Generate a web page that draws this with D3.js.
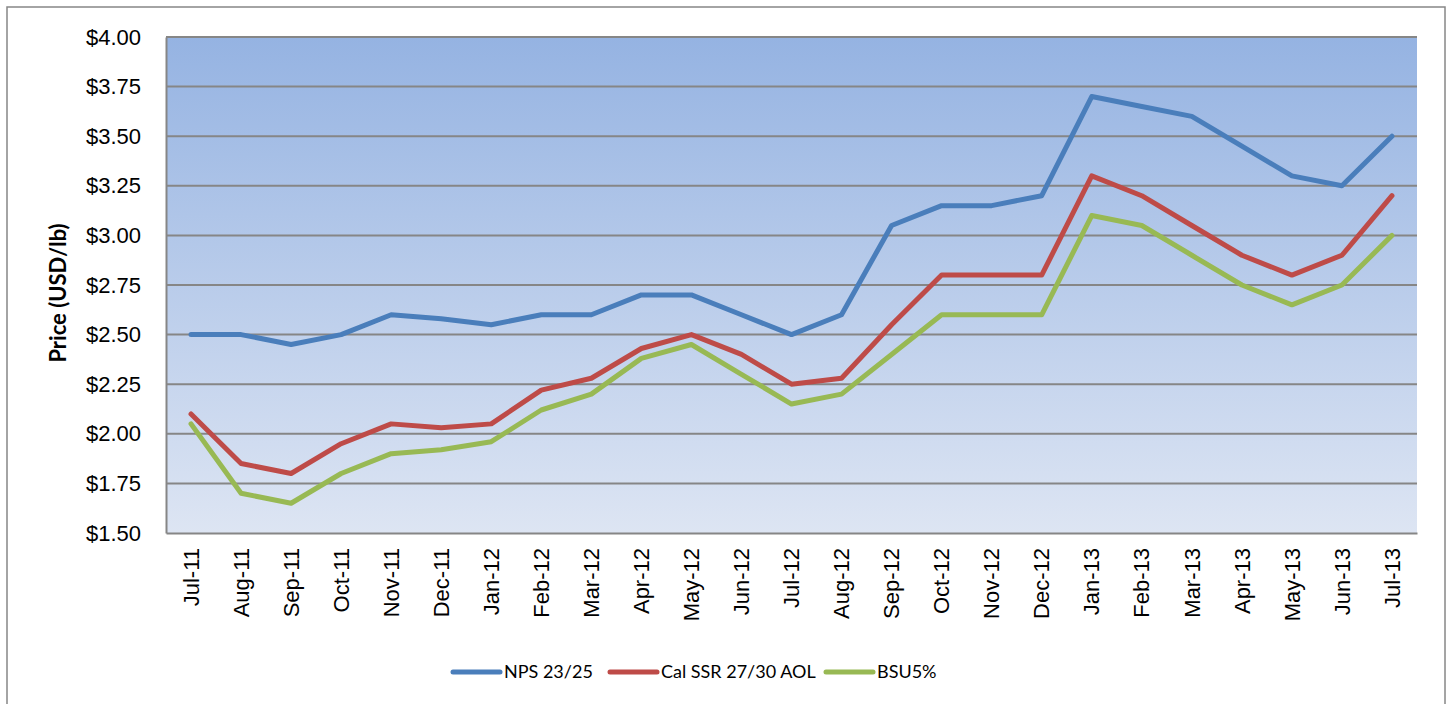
<!DOCTYPE html>
<html>
<head>
<meta charset="utf-8">
<script src="https://cdn.jsdelivr.net/npm/d3@7"></script>
<style>
  body { margin: 0; background: #fff; }
  svg { display: block; font-family: Lato, "Open Sans", sans-serif; }
</style>
</head>
<body>
<svg id="chart" width="1450" height="704"></svg>
<script>
const months = ['Jul-11', 'Aug-11', 'Sep-11', 'Oct-11', 'Nov-11', 'Dec-11', 'Jan-12', 'Feb-12', 'Mar-12', 'Apr-12',
  'May-12', 'Jun-12', 'Jul-12', 'Aug-12', 'Sep-12', 'Oct-12', 'Nov-12', 'Dec-12', 'Jan-13', 'Feb-13', 'Mar-13',
  'Apr-13', 'May-13', 'Jun-13', 'Jul-13']
const nps = [2.50, 2.50, 2.45, 2.50, 2.60, 2.58, 2.55, 2.60, 2.60, 2.70, 2.70, 2.60, 2.50, 2.60, 3.05, 3.15, 3.15, 3.20,
  3.70, 3.65, 3.60, 3.45, 3.30, 3.25, 3.50]
const calSsr = [2.10, 1.85, 1.80, 1.95, 2.05, 2.03, 2.05, 2.22, 2.28, 2.43, 2.50, 2.40, 2.25, 2.28, 2.55, 2.80, 2.80, 2.80,
  3.30, 3.20, 3.05, 2.90, 2.80, 2.90, 3.20]
const bsu = [2.05, 1.70, 1.65, 1.80, 1.90, 1.92, 1.96, 2.12, 2.20, 2.38, 2.45, 2.30, 2.15, 2.20, 2.40, 2.60, 2.60, 2.60,
  3.10, 3.05, 2.90, 2.75, 2.65, 2.75, 3.00]
const yTicks = [1.50, 1.75, 2.00, 2.25, 2.50, 2.75, 3.00, 3.25, 3.50, 3.75, 4.00]

const seriesList = [
  { name: 'NPS 23/25', values: nps, color: '#4a7ebb' },
  { name: 'Cal SSR 27/30 AOL', values: calSsr, color: '#be4b48' },
  { name: 'BSU5%', values: bsu, color: '#98b954' }
]

const svg = d3.select('#chart')
const plotLeft = 166, plotTop = 37, plotRight = 1417, plotBottom = 533

// outer chart border
svg.append('rect')
  .attr('x', 7).attr('y', 7)
  .attr('width', 1438).attr('height', 720)
  .style('fill', 'none').style('stroke', '#878787').style('stroke-width', 1.5)

const x = d3.scaleBand().domain(months).range([plotLeft, plotRight])
const y = d3.scaleLinear().domain([1.5, 4]).range([plotBottom, plotTop])

const defs = svg.append('defs')
const grad = defs.append('linearGradient')
  .attr('id', 'plotBg').attr('x1', 0).attr('y1', 0).attr('x2', 0).attr('y2', 1)
grad.append('stop').attr('offset', '0%').attr('stop-color', '#95b3e2')
grad.append('stop').attr('offset', '100%').attr('stop-color', '#dde5f3')

svg.append('rect')
  .attr('x', plotLeft).attr('y', plotTop)
  .attr('width', plotRight - plotLeft).attr('height', plotBottom - plotTop)
  .style('fill', 'url(#plotBg)')

// gridlines
svg.append('g')
  .selectAll('line')
  .data(yTicks.slice(1))
  .join('line')
  .attr('x1', plotLeft).attr('x2', plotRight)
  .attr('y1', d => y(d)).attr('y2', d => y(d))
  .style('stroke', '#868686').style('stroke-width', 2)

// y axis
const yAxis = svg.append('g')
  .attr('transform', `translate(${plotLeft},0)`)
  .call(d3.axisLeft(y).tickValues(yTicks).tickFormat(d => '$' + d.toFixed(2)).tickSize(0).tickPadding(25))
yAxis.select('.domain').style('stroke', '#868686').style('stroke-width', 2)
yAxis.selectAll('text').style('font-size', '22px').style('fill', '#000')

// x axis
const xAxis = svg.append('g')
  .attr('transform', `translate(0,${plotBottom})`)
  .call(d3.axisBottom(x).tickSize(0))
xAxis.select('.domain').style('stroke', '#868686').style('stroke-width', 2)
xAxis.selectAll('text')
  .style('font-size', '22px').style('fill', '#000')
  .attr('text-anchor', 'end')
  .attr('transform', 'rotate(-90)')
  .attr('x', -15).attr('y', 0).attr('dy', '0.35em')

svg.append('text')
  .text('Price (USD/lb)')
  .attr('transform', `translate(66,${(plotTop + plotBottom) / 2 + 8}) rotate(-90)`)
  .attr('text-anchor', 'middle')
  .style('font-size', '22px').style('font-weight', 'bold')

const line = d3.line()
  .x((d, i) => x(months[i]) + x.bandwidth() / 2)
  .y(d => y(d))

svg.append('g')
  .selectAll('path')
  .data(seriesList)
  .join('path')
  .attr('d', d => line(d.values))
  .style('fill', 'none')
  .style('stroke', d => d.color)
  .style('stroke-width', 5)
  .style('stroke-linejoin', 'round')
  .style('stroke-linecap', 'round')

// legend
const legendX = [453, 610, 826]
const legend = svg.append('g')
  .selectAll('g')
  .data(seriesList)
  .join('g')
  .attr('transform', (d, i) => `translate(${legendX[i]},672)`)
legend.append('line')
  .attr('x1', 0).attr('x2', 47)
  .style('stroke', d => d.color).style('stroke-width', 5).style('stroke-linecap', 'round')
legend.append('text')
  .text(d => d.name)
  .attr('x', 51).attr('dy', '0.35em')
  .style('font-size', '18px')
</script>
</body>
</html>
